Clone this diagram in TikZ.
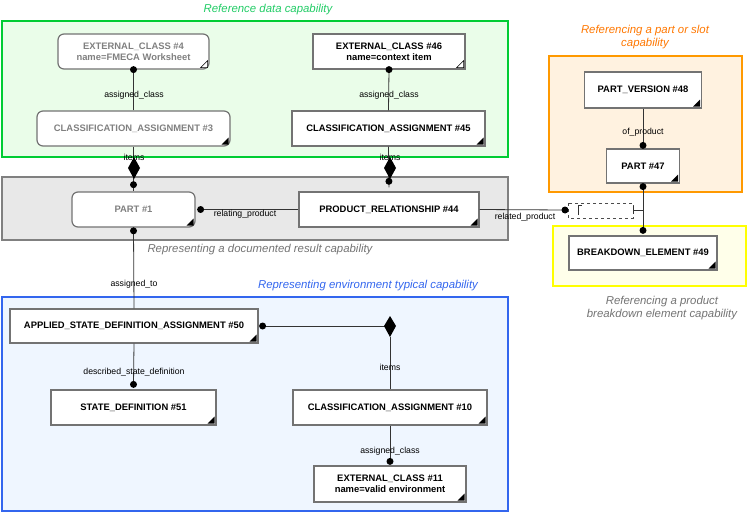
\documentclass[tikz,border=0pt]{standalone}
\usepackage{fontspec}
\setmainfont{Liberation Sans}
\begin{document}
\begin{tikzpicture}[x=1pt,y=-1pt,
  box/.style={draw=gray!90!black,line width=1.2pt,fill=white,font=\bfseries\fontsize{9.4}{11}\selectfont,align=center,inner sep=0pt},
  rbox/.style={box,rounded corners=6pt,text=gray},
  lab/.style={font=\fontsize{8.7}{10}\selectfont,inner sep=0pt},
  ttl/.style={font=\itshape\fontsize{11.4}{13.5}\selectfont,align=center,inner sep=0pt},
  dot/.style={circle,fill=black,inner sep=0pt,minimum size=7pt},
  conn/.style={draw=black!80,line width=0.8pt},
  area/.style={line width=2.5pt}]
\useasboundingbox (0,0) rectangle (748,514);
% areas
\draw[area,draw=green!75!black!80!cyan,fill={rgb,255:red,234;green,253;blue,233}] (2,21) rectangle (508,157);
\draw[area,draw=gray,fill={rgb,255:red,232;green,232;blue,232}] (2,177) rectangle (508,240);
\draw[area,draw={rgb,255:red,51;green,102;blue,238},fill={rgb,255:red,239;green,246;blue,255}] (2,297) rectangle (508,511);
\draw[area,draw={rgb,255:red,255;green,153;blue,0},fill={rgb,255:red,255;green,242;blue,224}] (549,56) rectangle (742,192);
\draw[area,draw={rgb,255:red,255;green,255;blue,0},fill={rgb,255:red,255;green,255;blue,234}] (553,226) rectangle (746,286);
% titles
\node[ttl,text={rgb,255:red,34;green,204;blue,102}] (t1) at (268,10) {Reference data capability};
\node[ttl,text={rgb,255:red,255;green,119;blue,0}] (t2) at (645,37) {Referencing a part or slot\\capability};
\node[ttl,text=gray!90!black] (t3) at (260,250) {Representing a documented result capability};
\node[ttl,text={rgb,255:red,51;green,102;blue,238}] (t4) at (368,286) {Representing environment typical capability};
\node[ttl,text=gray!90!black] (t5) at (662,308) {Referencing a product\\breakdown element capability};
% nodes
\newcommand\mybx[6]{\node[#1,minimum width=#4,minimum height=#5] (#2) at (#3) {#6};}
\mybx{rbox}{ec4}{133.5,51.5}{151}{35}{EXTERNAL\_CLASS \#4\\name=FMECA Worksheet}
\mybx{box}{ec46}{389,51.5}{152}{35}{EXTERNAL\_CLASS \#46\\name=context item}
\mybx{rbox}{ca3}{133.5,128.5}{193}{35}{CLASSIFICATION\_ASSIGNMENT \#3}
\mybx{box}{ca45}{388.5,128.5}{193}{35}{CLASSIFICATION\_ASSIGNMENT \#45}
\mybx{rbox}{p1}{133.5,209.5}{123}{35}{PART \#1}
\mybx{box}{pr44}{389,209.5}{180}{35}{PRODUCT\_RELATIONSHIP \#44}
\mybx{box}{pv48}{643,90}{117}{36}{PART\_VERSION \#48}
\mybx{box}{p47}{643,166}{73}{34}{PART \#47}
\mybx{box}{be49}{643,253}{148}{34}{BREAKDOWN\_ELEMENT \#49}
\mybx{box}{asda}{134,326}{248}{34}{APPLIED\_STATE\_DEFINITION\_ASSIGNMENT \#50}
\mybx{box}{sd51}{133.5,407.5}{165}{35}{STATE\_DEFINITION \#51}
\mybx{box}{ca10}{390,407.5}{194}{35}{CLASSIFICATION\_ASSIGNMENT \#10}
\mybx{box}{ec11}{390,484}{152}{36}{EXTERNAL\_CLASS \#11\\name=valid environment}
% corner marks
\foreach \n in {ca3,ca45,p1,pr44,pv48,p47,be49,asda,sd51,ca10,ec11}
  \fill ([xshift=-2pt,yshift=2pt]\n.south east) -- ++(-7pt,0) -- ++(7pt,7pt) -- cycle;
\foreach \n in {ec4,ec46}
  \draw[line width=0.6pt,fill=white] ([xshift=-2pt,yshift=2pt]\n.south east) -- ++(-7pt,0) -- ++(7pt,7pt) -- cycle;
% select box
\draw[dashed,line width=0.8pt,draw=black!70] (568,203) rectangle (633,218);
\coordinate (sel) at (633,210);
\coordinate (br) at (643,210);
\draw[conn] (578,205) -- (578,215) (578,205) -- (582,205);
% connectors
\draw[conn] (ca3.north) -- (ec4.south) node[dot] {};
\node[lab] at (134,95) {assigned\_class};
\draw[conn] (ca45.north) -- (ec46.south) node[dot] {};
\node[lab] at (389,95) {assigned\_class};
\newcommand\vdiam[2]{\fill (#1,#2-11) -- (#1+6,#2) -- (#1,#2+11) -- (#1-6,#2) -- cycle;}
\draw[conn] (ca3.south) -- (p1.north) node[dot,pos=0.85] {};
\vdiam{134}{168}\node[lab] at (134,157) {items};
\draw[conn] (ca45.south) -- ([yshift=4pt]pr44.north) node[dot,pos=0.85] {};
\vdiam{390}{168}\node[lab] at (390,157) {items};
\draw[conn] (pr44.west) -- ([xshift=5pt]p1.east) node[dot] {};
\node[lab] at (245,214) {relating\_product};
\draw[conn] (pr44.east) -- (565,210) node[dot] (d1) {};
\node[lab] at (525,217) {related\_product};
\draw[conn] (p1.south) -- (asda.north) node[dot,pos=0.04] {};
\node[lab] at (134,284) {assigned\_to};
\draw[conn] (pv48.south) -- ([yshift=3pt]p47.north) node[dot] {};
\node[lab] at (643,132) {of\_product};
\draw[conn] ([yshift=-3pt]p47.south) node[dot] {} -- ([yshift=5pt]be49.north) node[dot] {};
\draw[conn] (sel) -- (br) (633,206) -- (633,214);
\draw[conn] (asda.east) ++(4,0) node[dot] {} -- (390,326);
\fill (390,316) -- (396,326) -- (390,337) -- (384,326) -- cycle;
\draw[conn] (390,337) -- (ca10.north);
\node[lab] at (390,367) {items};
\draw[conn] (asda.south) -- ([yshift=5pt]sd51.north) node[dot] {};
\node[lab] at (134,372) {described\_state\_definition};
\draw[conn] (ca10.south) -- ([yshift=4pt]ec11.north) node[dot] {};
\node[lab] at (390,451) {assigned\_class};
\end{tikzpicture}
\end{document}
